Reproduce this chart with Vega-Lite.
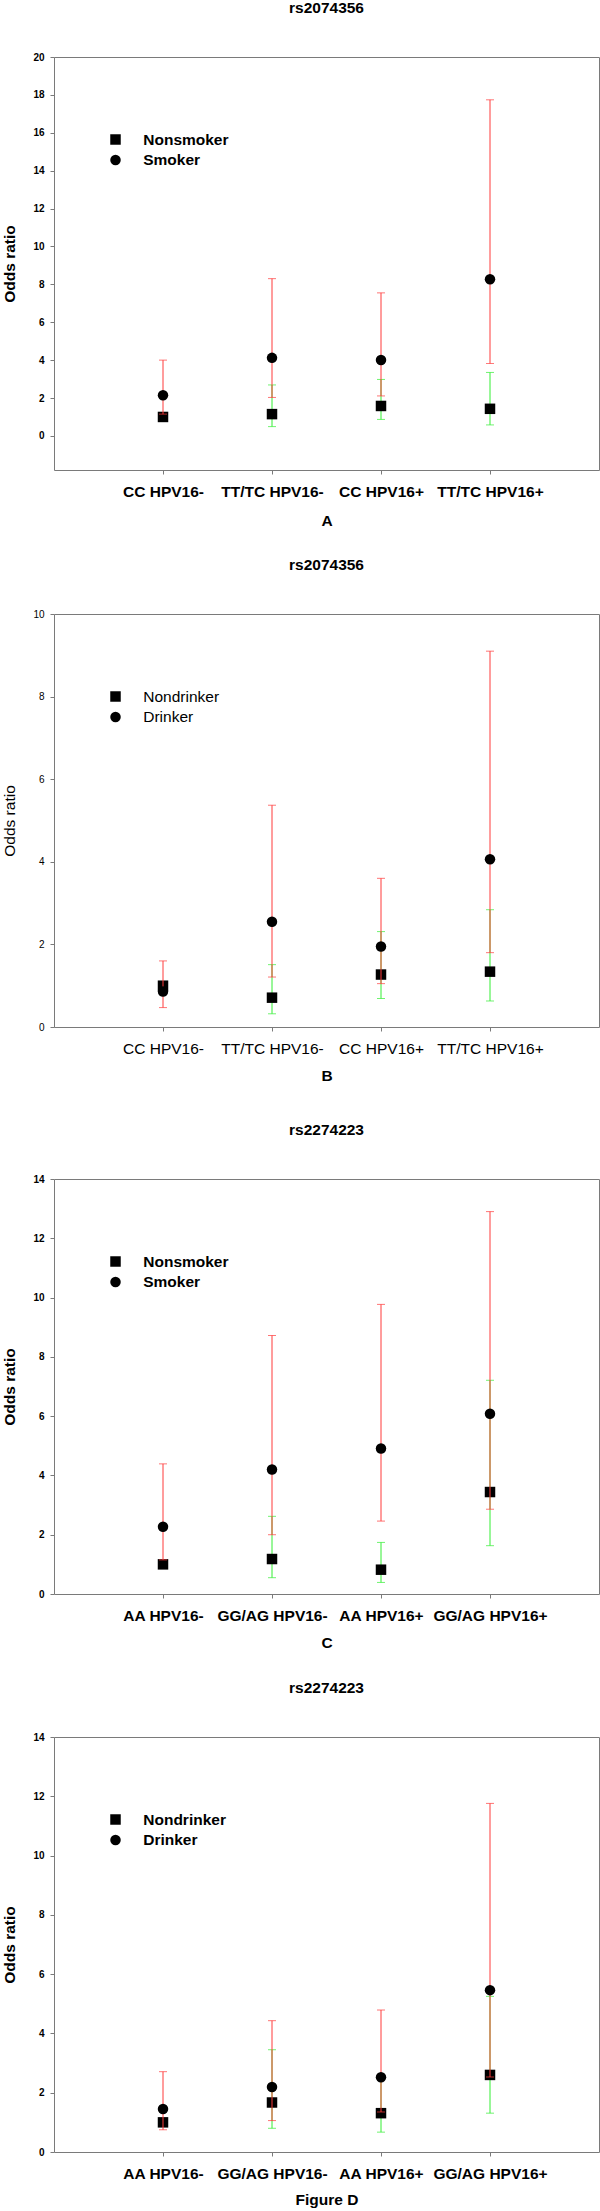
{
  "$schema": "https://vega.github.io/schema/vega-lite/v6.json",
  "padding": {"left": 2, "top": 0, "right": 0, "bottom": 0},
  "background": "white",
  "config": {
    "font": "Liberation Sans",
    "view": {"stroke": "#7a7a7a", "strokeWidth": 1},
    "axis": {"domain": false, "grid": false, "tickColor": "#7a7a7a", "tickSize": 4, "labelColor": "black", "titleColor": "black", "labelFont": "Liberation Sans", "titleFont": "Liberation Sans"},
    "axisY": {"labelFontSize": 10, "labelPadding": 6, "titleFontSize": 15.5, "titlePadding": 15},
    "axisX": {"labelFontSize": 15.5, "labelPadding": 10, "titleFontSize": 15.5, "labelAngle": 0},
    "title": {"fontSize": 15.5, "fontWeight": "bold", "color": "black", "anchor": "middle", "frame": "group", "offset": 36, "font": "Liberation Sans"},
    "legend": {"title": null, "orient": "none", "direction": "vertical", "labelFontSize": 15.5, "symbolSize": 110, "symbolFillColor": "black", "symbolStrokeWidth": 0, "labelOffset": 20, "rowPadding": 3.5, "padding": 0, "labelColor": "black", "labelFont": "Liberation Sans"}
  },
  "datasets": {
    "A": [
      {"genotype": "CC HPV16-", "group": "Nonsmoker", "or": 1.0, "lo": null, "hi": null},
      {"genotype": "TT/TC HPV16-", "group": "Nonsmoker", "or": 1.15, "lo": 0.49, "hi": 2.69},
      {"genotype": "CC HPV16+", "group": "Nonsmoker", "or": 1.58, "lo": 0.87, "hi": 2.98},
      {"genotype": "TT/TC HPV16+", "group": "Nonsmoker", "or": 1.43, "lo": 0.58, "hi": 3.35},
      {"genotype": "CC HPV16-", "group": "Smoker", "or": 2.15, "lo": 1.15, "hi": 4.0},
      {"genotype": "TT/TC HPV16-", "group": "Smoker", "or": 4.12, "lo": 2.03, "hi": 8.3},
      {"genotype": "CC HPV16+", "group": "Smoker", "or": 4.01, "lo": 2.11, "hi": 7.55},
      {"genotype": "TT/TC HPV16+", "group": "Smoker", "or": 8.27, "lo": 3.82, "hi": 17.74}
    ],
    "B": [
      {"genotype": "CC HPV16-", "group": "Nondrinker", "or": 1.0, "lo": null, "hi": null},
      {"genotype": "TT/TC HPV16-", "group": "Nondrinker", "or": 0.71, "lo": 0.32, "hi": 1.51},
      {"genotype": "CC HPV16+", "group": "Nondrinker", "or": 1.27, "lo": 0.69, "hi": 2.31},
      {"genotype": "TT/TC HPV16+", "group": "Nondrinker", "or": 1.34, "lo": 0.63, "hi": 2.84},
      {"genotype": "CC HPV16-", "group": "Drinker", "or": 0.86, "lo": 0.47, "hi": 1.6},
      {"genotype": "TT/TC HPV16-", "group": "Drinker", "or": 2.55, "lo": 1.21, "hi": 5.37},
      {"genotype": "CC HPV16+", "group": "Drinker", "or": 1.95, "lo": 1.05, "hi": 3.6},
      {"genotype": "TT/TC HPV16+", "group": "Drinker", "or": 4.06, "lo": 1.8, "hi": 9.1}
    ],
    "C": [
      {"genotype": "AA HPV16-", "group": "Nonsmoker", "or": 1.0, "lo": null, "hi": null},
      {"genotype": "GG/AG HPV16-", "group": "Nonsmoker", "or": 1.18, "lo": 0.55, "hi": 2.62},
      {"genotype": "AA HPV16+", "group": "Nonsmoker", "or": 0.82, "lo": 0.39, "hi": 1.74},
      {"genotype": "GG/AG HPV16+", "group": "Nonsmoker", "or": 3.44, "lo": 1.63, "hi": 7.21},
      {"genotype": "AA HPV16-", "group": "Smoker", "or": 2.27, "lo": 1.15, "hi": 4.39},
      {"genotype": "GG/AG HPV16-", "group": "Smoker", "or": 4.2, "lo": 2.0, "hi": 8.72},
      {"genotype": "AA HPV16+", "group": "Smoker", "or": 4.91, "lo": 2.46, "hi": 9.77},
      {"genotype": "GG/AG HPV16+", "group": "Smoker", "or": 6.08, "lo": 2.86, "hi": 12.9}
    ],
    "D": [
      {"genotype": "AA HPV16-", "group": "Nondrinker", "or": 1.0, "lo": null, "hi": null},
      {"genotype": "GG/AG HPV16-", "group": "Nondrinker", "or": 1.67, "lo": 0.8, "hi": 3.45},
      {"genotype": "AA HPV16+", "group": "Nondrinker", "or": 1.31, "lo": 0.67, "hi": 2.55},
      {"genotype": "GG/AG HPV16+", "group": "Nondrinker", "or": 2.6, "lo": 1.31, "hi": 5.25},
      {"genotype": "AA HPV16-", "group": "Drinker", "or": 1.45, "lo": 0.75, "hi": 2.71},
      {"genotype": "GG/AG HPV16-", "group": "Drinker", "or": 2.19, "lo": 1.06, "hi": 4.43},
      {"genotype": "AA HPV16+", "group": "Drinker", "or": 2.52, "lo": 1.35, "hi": 4.79},
      {"genotype": "GG/AG HPV16+", "group": "Drinker", "or": 5.46, "lo": 2.53, "hi": 11.76}
    ]
  },
  "resolve": {"scale": {"x": "independent", "y": "independent", "shape": "independent"}, "legend": {"shape": "independent"}},
  "spacing": 37,
  "vconcat": [
    {
      "resolve": {"scale": {"x": "independent", "y": "independent", "shape": "independent"}, "legend": {"shape": "independent"}},
      "spacing": 27,
      "vconcat": [
        {
          "width": 545, "height": 413,
          "title": {"text": "rs2074356"},
          "data": {"name": "A"},
          "encoding": {"x": {"field": "genotype", "type": "nominal", "sort": ["CC HPV16-", "TT/TC HPV16-", "CC HPV16+", "TT/TC HPV16+"], "scale": {"type": "point", "padding": 1}, "axis": {"title": "A", "labelFontWeight": "bold", "titleFontWeight": "bold", "titlePadding": 14}}},
          "layer": [
            {"transform": [{"filter": "datum.group === 'Nonsmoker' && isValid(datum.lo)"}], "mark": {"type": "rule", "color": "#33ee33", "strokeWidth": 1},
             "encoding": {"y": {"field": "lo", "type": "quantitative", "title": "Odds ratio", "scale": {"domain": [-1.8, 20], "nice": false, "zero": false}, "axis": {"values": [0, 2, 4, 6, 8, 10, 12, 14, 16, 18, 20], "labelFontWeight": "bold", "titleFontWeight": "bold"}}, "y2": {"field": "hi"}}},
            {"transform": [{"filter": "datum.group === 'Nonsmoker' && isValid(datum.lo)"}], "mark": {"type": "tick", "color": "#33ee33", "size": 8, "thickness": 1, "orient": "horizontal"},
             "encoding": {"y": {"field": "lo", "type": "quantitative", "title": "Odds ratio", "scale": {"domain": [-1.8, 20], "nice": false, "zero": false}, "axis": {"values": [0, 2, 4, 6, 8, 10, 12, 14, 16, 18, 20], "labelFontWeight": "bold", "titleFontWeight": "bold"}}}},
            {"transform": [{"filter": "datum.group === 'Nonsmoker' && isValid(datum.lo)"}], "mark": {"type": "tick", "color": "#33ee33", "size": 8, "thickness": 1, "orient": "horizontal"},
             "encoding": {"y": {"field": "hi", "type": "quantitative", "title": "Odds ratio", "scale": {"domain": [-1.8, 20], "nice": false, "zero": false}, "axis": {"values": [0, 2, 4, 6, 8, 10, 12, 14, 16, 18, 20], "labelFontWeight": "bold", "titleFontWeight": "bold"}}}},
            {"transform": [{"filter": "datum.group === 'Nonsmoker'"}], "mark": {"type": "point", "filled": true, "color": "black", "opacity": 1, "size": 110, "strokeWidth": 0},
             "encoding": {"y": {"field": "or", "type": "quantitative", "title": "Odds ratio", "scale": {"domain": [-1.8, 20], "nice": false, "zero": false}, "axis": {"values": [0, 2, 4, 6, 8, 10, 12, 14, 16, 18, 20], "labelFontWeight": "bold", "titleFontWeight": "bold"}},
               "shape": {"field": "group", "type": "nominal", "scale": {"domain": ["Nonsmoker", "Smoker"], "range": ["square", "circle"]}, "legend": {"legendX": 53.75, "legendY": 74.75, "labelFontWeight": "bold"}}}},
            {"transform": [{"filter": "datum.group === 'Smoker' && isValid(datum.lo)"}], "mark": {"type": "rule", "color": "#ff3a3a", "strokeWidth": 1},
             "encoding": {"y": {"field": "lo", "type": "quantitative", "title": "Odds ratio", "scale": {"domain": [-1.8, 20], "nice": false, "zero": false}, "axis": {"values": [0, 2, 4, 6, 8, 10, 12, 14, 16, 18, 20], "labelFontWeight": "bold", "titleFontWeight": "bold"}}, "y2": {"field": "hi"}}},
            {"transform": [{"filter": "datum.group === 'Smoker' && isValid(datum.lo)"}], "mark": {"type": "tick", "color": "#ff3a3a", "size": 8, "thickness": 1, "orient": "horizontal"},
             "encoding": {"y": {"field": "lo", "type": "quantitative", "title": "Odds ratio", "scale": {"domain": [-1.8, 20], "nice": false, "zero": false}, "axis": {"values": [0, 2, 4, 6, 8, 10, 12, 14, 16, 18, 20], "labelFontWeight": "bold", "titleFontWeight": "bold"}}}},
            {"transform": [{"filter": "datum.group === 'Smoker' && isValid(datum.lo)"}], "mark": {"type": "tick", "color": "#ff3a3a", "size": 8, "thickness": 1, "orient": "horizontal"},
             "encoding": {"y": {"field": "hi", "type": "quantitative", "title": "Odds ratio", "scale": {"domain": [-1.8, 20], "nice": false, "zero": false}, "axis": {"values": [0, 2, 4, 6, 8, 10, 12, 14, 16, 18, 20], "labelFontWeight": "bold", "titleFontWeight": "bold"}}}},
            {"transform": [{"filter": "datum.group === 'Smoker'"}], "mark": {"type": "point", "filled": true, "color": "black", "opacity": 1, "size": 110, "strokeWidth": 0},
             "encoding": {"y": {"field": "or", "type": "quantitative", "title": "Odds ratio", "scale": {"domain": [-1.8, 20], "nice": false, "zero": false}, "axis": {"values": [0, 2, 4, 6, 8, 10, 12, 14, 16, 18, 20], "labelFontWeight": "bold", "titleFontWeight": "bold"}},
               "shape": {"field": "group", "type": "nominal", "scale": {"domain": ["Nonsmoker", "Smoker"], "range": ["square", "circle"]}, "legend": {"legendX": 53.75, "legendY": 74.75, "labelFontWeight": "bold"}}}}
          ]
        },
        {
          "width": 545, "height": 413,
          "title": {"text": "rs2074356"},
          "data": {"name": "B"},
          "encoding": {"x": {"field": "genotype", "type": "nominal", "sort": ["CC HPV16-", "TT/TC HPV16-", "CC HPV16+", "TT/TC HPV16+"], "scale": {"type": "point", "padding": 1}, "axis": {"title": "B", "labelFontWeight": "normal", "titleFontWeight": "bold", "titlePadding": 12}}},
          "layer": [
            {"transform": [{"filter": "datum.group === 'Nondrinker' && isValid(datum.lo)"}], "mark": {"type": "rule", "color": "#33ee33", "strokeWidth": 1},
             "encoding": {"y": {"field": "lo", "type": "quantitative", "title": "Odds ratio", "scale": {"domain": [0, 10], "nice": false, "zero": false}, "axis": {"values": [0, 2, 4, 6, 8, 10], "labelFontWeight": "normal", "titleFontWeight": "normal"}}, "y2": {"field": "hi"}}},
            {"transform": [{"filter": "datum.group === 'Nondrinker' && isValid(datum.lo)"}], "mark": {"type": "tick", "color": "#33ee33", "size": 8, "thickness": 1, "orient": "horizontal"},
             "encoding": {"y": {"field": "lo", "type": "quantitative", "title": "Odds ratio", "scale": {"domain": [0, 10], "nice": false, "zero": false}, "axis": {"values": [0, 2, 4, 6, 8, 10], "labelFontWeight": "normal", "titleFontWeight": "normal"}}}},
            {"transform": [{"filter": "datum.group === 'Nondrinker' && isValid(datum.lo)"}], "mark": {"type": "tick", "color": "#33ee33", "size": 8, "thickness": 1, "orient": "horizontal"},
             "encoding": {"y": {"field": "hi", "type": "quantitative", "title": "Odds ratio", "scale": {"domain": [0, 10], "nice": false, "zero": false}, "axis": {"values": [0, 2, 4, 6, 8, 10], "labelFontWeight": "normal", "titleFontWeight": "normal"}}}},
            {"transform": [{"filter": "datum.group === 'Nondrinker'"}], "mark": {"type": "point", "filled": true, "color": "black", "opacity": 1, "size": 110, "strokeWidth": 0},
             "encoding": {"y": {"field": "or", "type": "quantitative", "title": "Odds ratio", "scale": {"domain": [0, 10], "nice": false, "zero": false}, "axis": {"values": [0, 2, 4, 6, 8, 10], "labelFontWeight": "normal", "titleFontWeight": "normal"}},
               "shape": {"field": "group", "type": "nominal", "scale": {"domain": ["Nondrinker", "Drinker"], "range": ["square", "circle"]}, "legend": {"legendX": 53.75, "legendY": 74.75, "labelFontWeight": "normal"}}}},
            {"transform": [{"filter": "datum.group === 'Drinker' && isValid(datum.lo)"}], "mark": {"type": "rule", "color": "#ff3a3a", "strokeWidth": 1},
             "encoding": {"y": {"field": "lo", "type": "quantitative", "title": "Odds ratio", "scale": {"domain": [0, 10], "nice": false, "zero": false}, "axis": {"values": [0, 2, 4, 6, 8, 10], "labelFontWeight": "normal", "titleFontWeight": "normal"}}, "y2": {"field": "hi"}}},
            {"transform": [{"filter": "datum.group === 'Drinker' && isValid(datum.lo)"}], "mark": {"type": "tick", "color": "#ff3a3a", "size": 8, "thickness": 1, "orient": "horizontal"},
             "encoding": {"y": {"field": "lo", "type": "quantitative", "title": "Odds ratio", "scale": {"domain": [0, 10], "nice": false, "zero": false}, "axis": {"values": [0, 2, 4, 6, 8, 10], "labelFontWeight": "normal", "titleFontWeight": "normal"}}}},
            {"transform": [{"filter": "datum.group === 'Drinker' && isValid(datum.lo)"}], "mark": {"type": "tick", "color": "#ff3a3a", "size": 8, "thickness": 1, "orient": "horizontal"},
             "encoding": {"y": {"field": "hi", "type": "quantitative", "title": "Odds ratio", "scale": {"domain": [0, 10], "nice": false, "zero": false}, "axis": {"values": [0, 2, 4, 6, 8, 10], "labelFontWeight": "normal", "titleFontWeight": "normal"}}}},
            {"transform": [{"filter": "datum.group === 'Drinker'"}], "mark": {"type": "point", "filled": true, "color": "black", "opacity": 1, "size": 110, "strokeWidth": 0},
             "encoding": {"y": {"field": "or", "type": "quantitative", "title": "Odds ratio", "scale": {"domain": [0, 10], "nice": false, "zero": false}, "axis": {"values": [0, 2, 4, 6, 8, 10], "labelFontWeight": "normal", "titleFontWeight": "normal"}},
               "shape": {"field": "group", "type": "nominal", "scale": {"domain": ["Nondrinker", "Drinker"], "range": ["square", "circle"]}, "legend": {"legendX": 53.75, "legendY": 74.75, "labelFontWeight": "normal"}}}}
          ]
        }
      ]
    },
    {
      "resolve": {"scale": {"x": "independent", "y": "independent", "shape": "independent"}, "legend": {"shape": "independent"}},
      "spacing": 29,
      "vconcat": [
        {
          "width": 545, "height": 415,
          "title": {"text": "rs2274223"},
          "data": {"name": "C"},
          "encoding": {"x": {"field": "genotype", "type": "nominal", "sort": ["AA HPV16-", "GG/AG HPV16-", "AA HPV16+", "GG/AG HPV16+"], "scale": {"type": "point", "padding": 1}, "axis": {"title": "C", "labelFontWeight": "bold", "titleFontWeight": "bold", "titlePadding": 11.5}}},
          "layer": [
            {"transform": [{"filter": "datum.group === 'Nonsmoker' && isValid(datum.lo)"}], "mark": {"type": "rule", "color": "#33ee33", "strokeWidth": 1},
             "encoding": {"y": {"field": "lo", "type": "quantitative", "title": "Odds ratio", "scale": {"domain": [0, 14], "nice": false, "zero": false}, "axis": {"values": [0, 2, 4, 6, 8, 10, 12, 14], "labelFontWeight": "bold", "titleFontWeight": "bold"}}, "y2": {"field": "hi"}}},
            {"transform": [{"filter": "datum.group === 'Nonsmoker' && isValid(datum.lo)"}], "mark": {"type": "tick", "color": "#33ee33", "size": 8, "thickness": 1, "orient": "horizontal"},
             "encoding": {"y": {"field": "lo", "type": "quantitative", "title": "Odds ratio", "scale": {"domain": [0, 14], "nice": false, "zero": false}, "axis": {"values": [0, 2, 4, 6, 8, 10, 12, 14], "labelFontWeight": "bold", "titleFontWeight": "bold"}}}},
            {"transform": [{"filter": "datum.group === 'Nonsmoker' && isValid(datum.lo)"}], "mark": {"type": "tick", "color": "#33ee33", "size": 8, "thickness": 1, "orient": "horizontal"},
             "encoding": {"y": {"field": "hi", "type": "quantitative", "title": "Odds ratio", "scale": {"domain": [0, 14], "nice": false, "zero": false}, "axis": {"values": [0, 2, 4, 6, 8, 10, 12, 14], "labelFontWeight": "bold", "titleFontWeight": "bold"}}}},
            {"transform": [{"filter": "datum.group === 'Nonsmoker'"}], "mark": {"type": "point", "filled": true, "color": "black", "opacity": 1, "size": 110, "strokeWidth": 0},
             "encoding": {"y": {"field": "or", "type": "quantitative", "title": "Odds ratio", "scale": {"domain": [0, 14], "nice": false, "zero": false}, "axis": {"values": [0, 2, 4, 6, 8, 10, 12, 14], "labelFontWeight": "bold", "titleFontWeight": "bold"}},
               "shape": {"field": "group", "type": "nominal", "scale": {"domain": ["Nonsmoker", "Smoker"], "range": ["square", "circle"]}, "legend": {"legendX": 53.75, "legendY": 74.75, "labelFontWeight": "bold"}}}},
            {"transform": [{"filter": "datum.group === 'Smoker' && isValid(datum.lo)"}], "mark": {"type": "rule", "color": "#ff3a3a", "strokeWidth": 1},
             "encoding": {"y": {"field": "lo", "type": "quantitative", "title": "Odds ratio", "scale": {"domain": [0, 14], "nice": false, "zero": false}, "axis": {"values": [0, 2, 4, 6, 8, 10, 12, 14], "labelFontWeight": "bold", "titleFontWeight": "bold"}}, "y2": {"field": "hi"}}},
            {"transform": [{"filter": "datum.group === 'Smoker' && isValid(datum.lo)"}], "mark": {"type": "tick", "color": "#ff3a3a", "size": 8, "thickness": 1, "orient": "horizontal"},
             "encoding": {"y": {"field": "lo", "type": "quantitative", "title": "Odds ratio", "scale": {"domain": [0, 14], "nice": false, "zero": false}, "axis": {"values": [0, 2, 4, 6, 8, 10, 12, 14], "labelFontWeight": "bold", "titleFontWeight": "bold"}}}},
            {"transform": [{"filter": "datum.group === 'Smoker' && isValid(datum.lo)"}], "mark": {"type": "tick", "color": "#ff3a3a", "size": 8, "thickness": 1, "orient": "horizontal"},
             "encoding": {"y": {"field": "hi", "type": "quantitative", "title": "Odds ratio", "scale": {"domain": [0, 14], "nice": false, "zero": false}, "axis": {"values": [0, 2, 4, 6, 8, 10, 12, 14], "labelFontWeight": "bold", "titleFontWeight": "bold"}}}},
            {"transform": [{"filter": "datum.group === 'Smoker'"}], "mark": {"type": "point", "filled": true, "color": "black", "opacity": 1, "size": 110, "strokeWidth": 0},
             "encoding": {"y": {"field": "or", "type": "quantitative", "title": "Odds ratio", "scale": {"domain": [0, 14], "nice": false, "zero": false}, "axis": {"values": [0, 2, 4, 6, 8, 10, 12, 14], "labelFontWeight": "bold", "titleFontWeight": "bold"}},
               "shape": {"field": "group", "type": "nominal", "scale": {"domain": ["Nonsmoker", "Smoker"], "range": ["square", "circle"]}, "legend": {"legendX": 53.75, "legendY": 74.75, "labelFontWeight": "bold"}}}}
          ]
        },
        {
          "width": 545, "height": 415,
          "title": {"text": "rs2274223"},
          "data": {"name": "D"},
          "encoding": {"x": {"field": "genotype", "type": "nominal", "sort": ["AA HPV16-", "GG/AG HPV16-", "AA HPV16+", "GG/AG HPV16+"], "scale": {"type": "point", "padding": 1}, "axis": {"title": "Figure D", "labelFontWeight": "bold", "titleFontWeight": "bold", "titlePadding": 11}}},
          "layer": [
            {"transform": [{"filter": "datum.group === 'Nondrinker' && isValid(datum.lo)"}], "mark": {"type": "rule", "color": "#33ee33", "strokeWidth": 1},
             "encoding": {"y": {"field": "lo", "type": "quantitative", "title": "Odds ratio", "scale": {"domain": [0, 14], "nice": false, "zero": false}, "axis": {"values": [0, 2, 4, 6, 8, 10, 12, 14], "labelFontWeight": "bold", "titleFontWeight": "bold"}}, "y2": {"field": "hi"}}},
            {"transform": [{"filter": "datum.group === 'Nondrinker' && isValid(datum.lo)"}], "mark": {"type": "tick", "color": "#33ee33", "size": 8, "thickness": 1, "orient": "horizontal"},
             "encoding": {"y": {"field": "lo", "type": "quantitative", "title": "Odds ratio", "scale": {"domain": [0, 14], "nice": false, "zero": false}, "axis": {"values": [0, 2, 4, 6, 8, 10, 12, 14], "labelFontWeight": "bold", "titleFontWeight": "bold"}}}},
            {"transform": [{"filter": "datum.group === 'Nondrinker' && isValid(datum.lo)"}], "mark": {"type": "tick", "color": "#33ee33", "size": 8, "thickness": 1, "orient": "horizontal"},
             "encoding": {"y": {"field": "hi", "type": "quantitative", "title": "Odds ratio", "scale": {"domain": [0, 14], "nice": false, "zero": false}, "axis": {"values": [0, 2, 4, 6, 8, 10, 12, 14], "labelFontWeight": "bold", "titleFontWeight": "bold"}}}},
            {"transform": [{"filter": "datum.group === 'Nondrinker'"}], "mark": {"type": "point", "filled": true, "color": "black", "opacity": 1, "size": 110, "strokeWidth": 0},
             "encoding": {"y": {"field": "or", "type": "quantitative", "title": "Odds ratio", "scale": {"domain": [0, 14], "nice": false, "zero": false}, "axis": {"values": [0, 2, 4, 6, 8, 10, 12, 14], "labelFontWeight": "bold", "titleFontWeight": "bold"}},
               "shape": {"field": "group", "type": "nominal", "scale": {"domain": ["Nondrinker", "Drinker"], "range": ["square", "circle"]}, "legend": {"legendX": 53.75, "legendY": 74.75, "labelFontWeight": "bold"}}}},
            {"transform": [{"filter": "datum.group === 'Drinker' && isValid(datum.lo)"}], "mark": {"type": "rule", "color": "#ff3a3a", "strokeWidth": 1},
             "encoding": {"y": {"field": "lo", "type": "quantitative", "title": "Odds ratio", "scale": {"domain": [0, 14], "nice": false, "zero": false}, "axis": {"values": [0, 2, 4, 6, 8, 10, 12, 14], "labelFontWeight": "bold", "titleFontWeight": "bold"}}, "y2": {"field": "hi"}}},
            {"transform": [{"filter": "datum.group === 'Drinker' && isValid(datum.lo)"}], "mark": {"type": "tick", "color": "#ff3a3a", "size": 8, "thickness": 1, "orient": "horizontal"},
             "encoding": {"y": {"field": "lo", "type": "quantitative", "title": "Odds ratio", "scale": {"domain": [0, 14], "nice": false, "zero": false}, "axis": {"values": [0, 2, 4, 6, 8, 10, 12, 14], "labelFontWeight": "bold", "titleFontWeight": "bold"}}}},
            {"transform": [{"filter": "datum.group === 'Drinker' && isValid(datum.lo)"}], "mark": {"type": "tick", "color": "#ff3a3a", "size": 8, "thickness": 1, "orient": "horizontal"},
             "encoding": {"y": {"field": "hi", "type": "quantitative", "title": "Odds ratio", "scale": {"domain": [0, 14], "nice": false, "zero": false}, "axis": {"values": [0, 2, 4, 6, 8, 10, 12, 14], "labelFontWeight": "bold", "titleFontWeight": "bold"}}}},
            {"transform": [{"filter": "datum.group === 'Drinker'"}], "mark": {"type": "point", "filled": true, "color": "black", "opacity": 1, "size": 110, "strokeWidth": 0},
             "encoding": {"y": {"field": "or", "type": "quantitative", "title": "Odds ratio", "scale": {"domain": [0, 14], "nice": false, "zero": false}, "axis": {"values": [0, 2, 4, 6, 8, 10, 12, 14], "labelFontWeight": "bold", "titleFontWeight": "bold"}},
               "shape": {"field": "group", "type": "nominal", "scale": {"domain": ["Nondrinker", "Drinker"], "range": ["square", "circle"]}, "legend": {"legendX": 53.75, "legendY": 74.75, "labelFontWeight": "bold"}}}}
          ]
        }
      ]
    }
  ]
}
